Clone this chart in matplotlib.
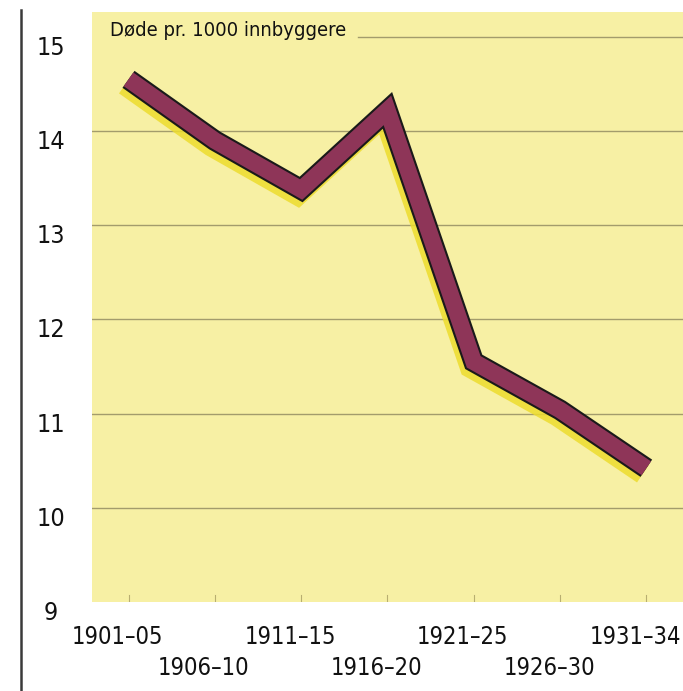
import matplotlib
matplotlib.use("Agg")
import matplotlib.pyplot as plt
import matplotlib.patheffects as pe
import matplotlib.transforms as mtransforms
from matplotlib.lines import Line2D

# ---- data ----
periods = ["1901–05", "1906–10", "1911–15", "1916–20", "1921–25", "1926–30", "1931–34"]
death_rate = [14.55, 13.90, 13.38, 14.22, 11.55, 11.04, 10.42]
y_ticks = [9, 10, 11, 12, 13, 14, 15]
y_labels = ["9", "10", "11", "12", "13", "14", "15"]
title_text = "Døde pr. 1000 innbyggere"

plt.rcParams["font.family"] = ["DejaVu Sans"]
FS = dict(fontstretch="condensed")

W, H = 683, 691
fig = plt.figure(figsize=(W / 100, H / 100), dpi=100)
fig.patch.set_facecolor("white")

panel_left, panel_right, panel_top, panel_bottom = 92, 683, 12, 602
ax = fig.add_axes([panel_left / W, (H - panel_bottom) / H,
                   (panel_right - panel_left) / W, (panel_bottom - panel_top) / H])
ax.set_facecolor("#F7F0A4")
for s in ax.spines.values():
    s.set_visible(False)

x = list(range(len(periods)))
ax.set_ylim(9, 15.265)
ax.set_xlim(-0.423, 6.425)
ax.set_xticks([])
ax.set_yticks([])

grid_start_top = (358 - panel_left) / (panel_right - panel_left)
for v in y_ticks[1:]:
    ax.axhline(v, xmin=grid_start_top if v == y_ticks[-1] else 0,
               color="#A39C6C", lw=1.0, zorder=1)

for xi in x:
    ax.plot([xi, xi], [9.0, 9.07], color="#B8AE70", lw=0.8, zorder=1)

ln, = ax.plot(x, death_rate, color="#8E3558", lw=12,
              solid_capstyle="butt", solid_joinstyle="miter", zorder=3)
ln.set_path_effects([
    pe.SimpleLineShadow(offset=(-2.5, -4), shadow_color="#EDDC2E", alpha=0.85,
                        linewidth=15),
    pe.Stroke(linewidth=15, foreground="#1a1a1a"),
    pe.Normal(),
])

fig.text(110 / W, (H - 31) / H, title_text, fontsize=14.5, color="#111111",
         ha="left", va="center", zorder=4, **FS)

ytrans = mtransforms.blended_transform_factory(fig.transFigure, ax.transData)
yoff = mtransforms.ScaledTranslation(0, -11 / 100, fig.dpi_scale_trans)
for v, lab in zip(y_ticks, y_labels):
    ax.text(51 / W, v, lab, transform=ytrans + yoff, fontsize=18,
            ha="center", va="center", color="#111111", clip_on=False, **FS)

xtrans = mtransforms.blended_transform_factory(ax.transData, fig.transFigure)
xoff = mtransforms.ScaledTranslation(-11 / 100, 0, fig.dpi_scale_trans)
for i, lab in enumerate(periods):
    ypix = 637 if i % 2 == 0 else 668
    ax.text(i, (H - ypix) / H, lab, transform=xtrans + xoff, fontsize=17,
            ha="center", va="center", color="#111111", clip_on=False, **FS)

fig.add_artist(Line2D([21 / W, 21 / W], [0, (H - 10) / H], transform=fig.transFigure,
                      color="#3a3a3a", lw=1.8))

fig.savefig("out.png", dpi=100, facecolor="white")
